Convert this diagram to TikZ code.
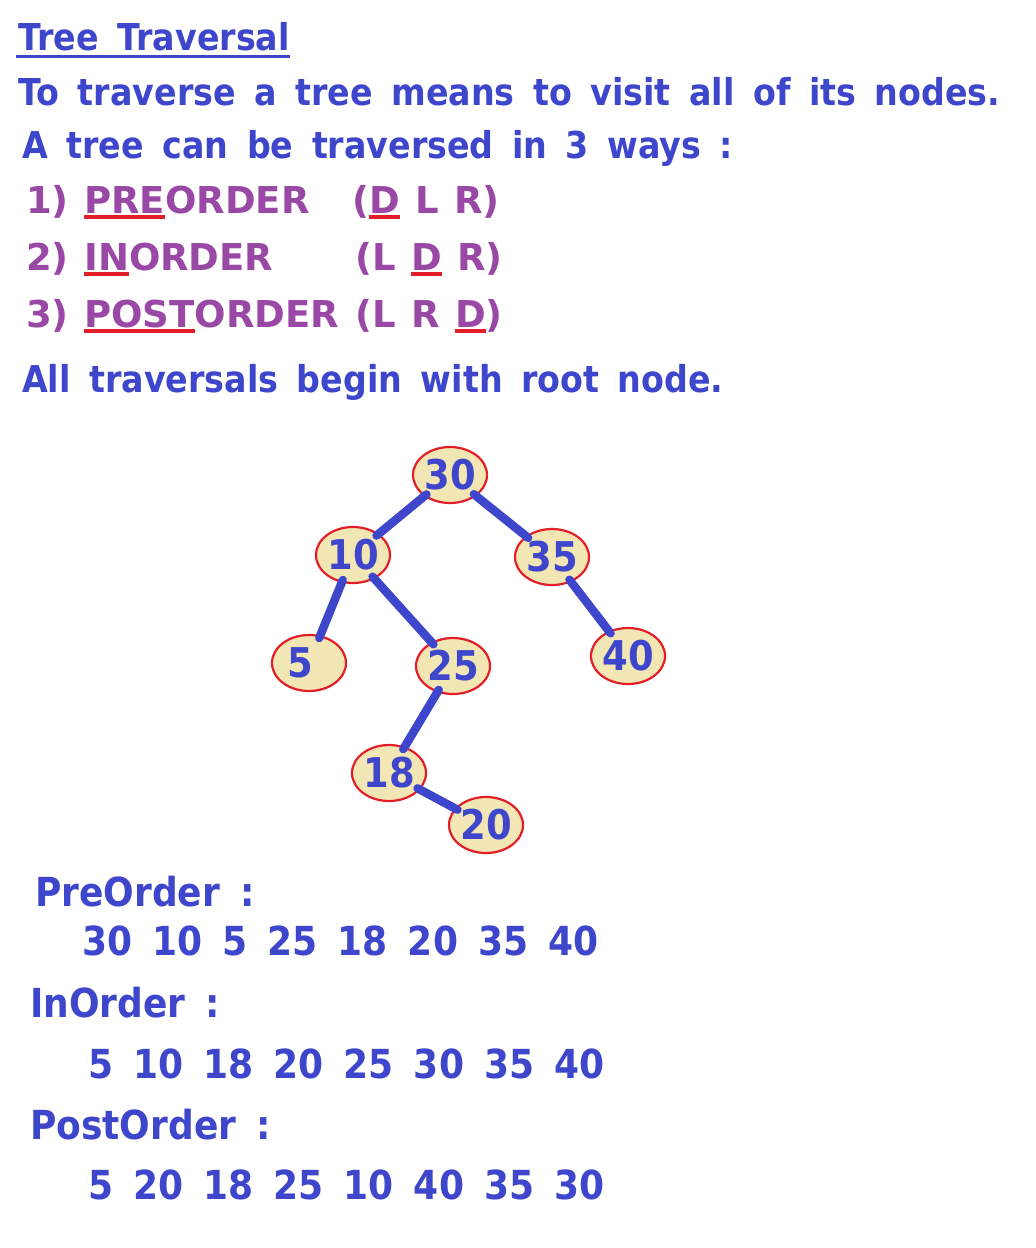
\documentclass[tikz,border=0pt]{standalone}
\usepackage{fontspec}
\setmainfont{DejaVu Sans}
\newfontfamily\cfont[FakeStretch=0.9,WordSpace=1.6]{DejaVu Sans}
\newfontfamily\wfont[WordSpace=1.2]{DejaVu Sans}
\usetikzlibrary{shapes.geometric}
\definecolor{tblue}{RGB}{62,70,204}
\definecolor{tpurple}{RGB}{154,72,166}
\definecolor{tred}{RGB}{228,30,40}
\definecolor{nfill}{RGB}{242,230,180}
\newsavebox\ulbox
\newcommand\redul[1]{\sbox\ulbox{#1}\rlap{\color{tred}\rule[-6pt]{\wd\ulbox}{4.5pt}}\usebox{\ulbox}}
\begin{document}
\begin{tikzpicture}[x=1pt,y=-1pt,
  txt/.style={anchor=base west,inner sep=0pt,text=tblue,font=\cfont\fontsize{37}{40}\selectfont\bfseries},
  ptxt/.style={txt,text=tpurple,font=\wfont\fontsize{37}{40}\selectfont\bfseries},
  btxt/.style={txt,font=\cfont\fontsize{40}{44}\selectfont\bfseries},
  tnode/.style={ellipse,draw=tred,line width=2.2pt,fill=nfill,minimum width=74pt,minimum height=56pt,inner sep=0pt,text=tblue,font=\cfont\fontsize{41}{41}\selectfont\bfseries},
  edge/.style={draw=tblue,line width=8.5pt,line cap=round,shorten <=-3pt,shorten >=-3pt}]
\useasboundingbox (0,0) rectangle (1036,1248);
\fill[white] (0,0) rectangle (1036,1248);
% header
\node[txt] (title) at (18,50) {Tree Traversal};
\draw[tblue,line width=3pt] ([shift={(-2,6)}]title.base west) -- ([shift={(0,6)}]title.base east);
\node[txt] (l2) at (18,105) {To traverse a tree means to visit all of its nodes.};
\node[txt] (l3) at (22,158) {A tree can be traversed in 3 ways :};
\node[ptxt] (p1) at (26,213) {1) \redul{PRE}ORDER};
\node[ptxt] (q1) at (352,213) {(\redul{D} L R)};
\node[ptxt] (p2) at (26,270) {2) \redul{IN}ORDER};
\node[ptxt] (q2) at (355,270) {(L \redul{D} R)};
\node[ptxt] (p3) at (26,327) {3) \redul{POST}ORDER};
\node[ptxt] (q3) at (355,327) {(L R \redul{D})};
\node[txt] (l4) at (22,392) {All traversals begin with root node.};
% tree
\node[tnode] (n30) at (450,475) {30};
\node[tnode] (n10) at (353,555) {10};
\node[tnode] (n35) at (552,557) {35};
\node[tnode] (n5) at (309,663) {5\kern18pt};
\node[tnode] (n25) at (453,666) {25};
\node[tnode] (n40) at (628,656) {40};
\node[tnode] (n18) at (389,773) {18};
\node[tnode] (n20) at (486,825) {20};
\draw[edge] (n30) -- (n10);
\draw[edge] (n30) -- (n35);
\draw[edge] (n10) -- (n5);
\draw[edge] (n10) -- (n25);
\draw[edge] (n35) -- (n40);
\draw[edge] (n25) -- (n18);
\draw[edge] (n18) -- (n20);
% results
\node[btxt] (pre) at (35,906) {PreOrder :};
\node[btxt] (preseq) at (82,955) {30 10 5 25 18 20 35 40};
\node[btxt] (in) at (30,1017) {InOrder :};
\node[btxt] (inseq) at (88,1078) {5 10 18 20 25 30 35 40};
\node[btxt] (post) at (30,1139) {PostOrder :};
\node[btxt] (postseq) at (88,1199) {5 20 18 25 10 40 35 30};
\end{tikzpicture}
\end{document}
